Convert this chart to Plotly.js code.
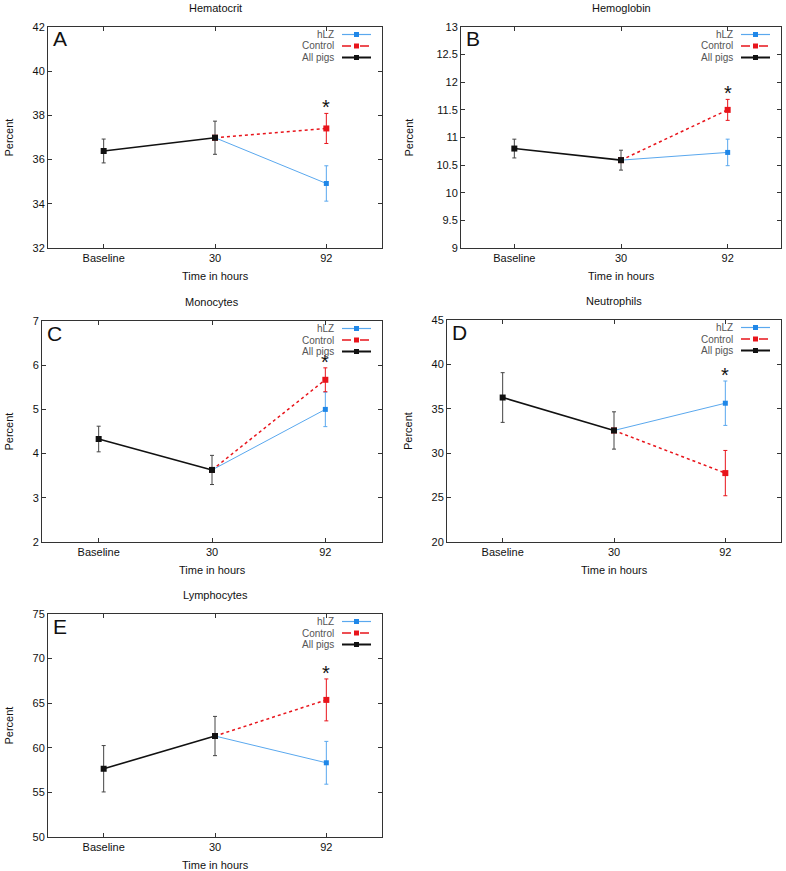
<!DOCTYPE html>
<html>
<head>
<meta charset="utf-8">
<script src="https://cdn.plot.ly/plotly-3.0.1.min.js"></script>
<style>
  html, body { margin: 0; padding: 0; background: #fff; }
  #chart { width: 786px; height: 871px; }
</style>
</head>
<body>
<div id="chart"></div>
<script>
// Blood values in pigs, hLZ vs control
const timepoints = ['Baseline', '30', '92'];
const panelTitles = ['Hematocrit', 'Hemoglobin', 'Monocytes', 'Neutrophils', 'Lymphocytes'];
const panelLetters = ['A', 'B', 'C', 'D', 'E'];
const seriesNames = ['hLZ', 'Control', 'All pigs'];

// all pigs: baseline and 30 h (mean, sem)
const allPigsMean = [[36.39, 36.99], [10.80, 10.59], [4.33, 3.63], [36.27, 32.56], [57.65, 61.32]];
const allPigsErr = [[0.54, 0.75], [0.17, 0.18], [0.29, 0.33], [2.8, 2.1], [2.6, 2.2]];
// groups at 92 h
const hlzMean92 = [34.92, 10.73, 5.00, 35.63, 58.32];
const hlzErr92 = [0.80, 0.24, 0.39, 2.5, 2.4];
const controlMean92 = [37.41, 11.50, 5.67, 27.76, 65.37];
const controlErr92 = [0.68, 0.19, 0.27, 2.55, 2.35];

const yRanges = [[32, 42], [9, 13], [2, 7], [20, 45], [50, 75]];
const yDticks = [2, 0.5, 1, 5, 5];

// panel boxes in px: [left, right, top, bottom]
const W = 786, H = 871;
const boxes = [
    [48, 382, 27, 248],
    [461, 781, 27, 248],
    [42, 382, 321, 542],
    [447, 781, 320, 542],
    [48, 382, 614, 837]
];

const BLUE = '#1f87e8';
const BLUE_LINE = '#5aa8ee';
const RED = '#e8141b';
const BLACK = '#111111';
const FONT = 'Liberation Sans, Arial, sans-serif';

const traces = [];
const layout = {
    width: W,
    height: H,
    margin: { l: 0, r: 0, t: 0, b: 0 },
    paper_bgcolor: '#fff',
    plot_bgcolor: '#fff',
    showlegend: false,
    font: { family: FONT, size: 11, color: '#222' },
    annotations: [],
    shapes: []
};

boxes.forEach((b, i) => {
    const n = i + 1;
    const xa = 'x' + (n === 1 ? '' : n);
    const ya = 'y' + (n === 1 ? '' : n);
    const xKey = 'xaxis' + (n === 1 ? '' : n);
    const yKey = 'yaxis' + (n === 1 ? '' : n);

    layout[xKey] = {
        type: 'category',
        categoryorder: 'array',
        categoryarray: timepoints,
        range: [-0.5, 2.5],
        domain: [b[0] / W, b[1] / W],
        anchor: ya,
        showline: true, mirror: 'ticks', linecolor: '#333', linewidth: 1,
        ticks: 'inside', ticklen: 4, tickcolor: '#333',
        showgrid: false, zeroline: false,
        tickfont: { size: 11, color: '#111' }
    };
    layout[yKey] = {
        range: yRanges[i],
        dtick: yDticks[i],
        domain: [1 - b[3] / H, 1 - b[2] / H],
        anchor: xa,
        showline: true, mirror: 'ticks', linecolor: '#333', linewidth: 1,
        ticks: 'inside', ticklen: 4, tickcolor: '#333',
        showgrid: false, zeroline: false,
        tickfont: { size: 11, color: '#111' }
    };

    // hLZ 30 -> 92
    traces.push({
        x: ['30', '92'],
        y: [allPigsMean[i][1], hlzMean92[i]],
        xaxis: xa, yaxis: ya,
        type: 'scatter', mode: 'lines+markers',
        line: { color: BLUE_LINE, width: 1 },
        marker: { symbol: 'square', size: 5, color: BLUE },
        error_y: { type: 'data', array: [NaN, hlzErr92[i]], color: BLUE_LINE, thickness: 1, width: 2 }
    });
    // Control 30 -> 92
    traces.push({
        x: ['30', '92'],
        y: [allPigsMean[i][1], controlMean92[i]],
        xaxis: xa, yaxis: ya,
        type: 'scatter', mode: 'lines+markers',
        line: { color: RED, width: 1.5, dash: '3px,3px' },
        marker: { symbol: 'square', size: 6, color: RED },
        error_y: { type: 'data', array: [NaN, controlErr92[i]], color: RED, thickness: 1, width: 2 }
    });
    // All pigs baseline -> 30
    traces.push({
        x: timepoints.slice(0, 2),
        y: allPigsMean[i],
        xaxis: xa, yaxis: ya,
        type: 'scatter', mode: 'lines+markers',
        line: { color: BLACK, width: 1.6 },
        marker: { symbol: 'square', size: 6, color: BLACK },
        error_y: { type: 'data', array: allPigsErr[i], color: '#444', thickness: 1, width: 2 }
    });

    const xd = xa + ' domain', yd = ya + ' domain';

    // panel title
    layout.annotations.push({
        text: panelTitles[i], xref: xd, yref: yd, x: 0.5, y: 1,
        yshift: 19, yanchor: 'middle', showarrow: false,
        font: { size: 11, color: '#111' }
    });
    // panel letter
    layout.annotations.push({
        text: panelLetters[i], xref: xd, yref: yd, x: 0, y: 1,
        xanchor: 'left', yanchor: 'middle', xshift: 3, yshift: -12, showarrow: false,
        font: { size: 21, color: '#111' }
    });
    // axis titles
    layout.annotations.push({
        text: 'Time in hours', xref: xd, yref: yd, x: 0.5, y: 0,
        yshift: -28, yanchor: 'middle', showarrow: false,
        font: { size: 11, color: '#111' }
    });
    layout.annotations.push({
        text: 'Percent', xref: 'paper', yref: yd, x: (b[0] < 200 ? 8 : 408) / W, y: 0.5,
        textangle: -90, xanchor: 'center', yanchor: 'middle', showarrow: false,
        font: { size: 11, color: '#111' }
    });
    // significance star above the higher group at 92 h
    const top92 = Math.max(hlzMean92[i] + hlzErr92[i], controlMean92[i] + controlErr92[i]);
    layout.annotations.push({
        text: '*', xref: xa, yref: ya, x: timepoints.indexOf('92'), y: top92,
        yanchor: 'middle', yshift: 6, borderpad: 0, showarrow: false,
        font: { size: 20, color: '#111' }
    });

    // legend drawn at top right, text left of the sample line
    const legendStyles = [
        { color: BLUE_LINE, mark: BLUE, dash: 'solid', width: 1.2 },
        { color: RED, mark: RED, dash: 'dash', width: 1.5 },
        { color: BLACK, mark: BLACK, dash: 'solid', width: 2 }
    ];
    seriesNames.forEach((name, k) => {
        const dy = -7.5 - k * 11.5;
        layout.annotations.push({
            text: name, xref: xd, yref: yd, x: 1, y: 1,
            xanchor: 'right', yanchor: 'middle', xshift: -46, yshift: dy,
            showarrow: false, font: { size: 10, color: '#555' }
        });
        const st = legendStyles[k];
        layout.shapes.push({
            type: 'line', xref: xd, yref: yd,
            xsizemode: 'pixel', ysizemode: 'pixel', xanchor: 1, yanchor: 1,
            x0: -40, x1: -11, y0: dy, y1: dy,
            line: { color: st.color, width: st.width, dash: st.dash }
        });
        layout.shapes.push({
            type: 'rect', xref: xd, yref: yd,
            xsizemode: 'pixel', ysizemode: 'pixel', xanchor: 1, yanchor: 1,
            x0: -28, x1: -23, y0: dy - 2.5, y1: dy + 2.5,
            fillcolor: st.mark, line: { width: 0 }
        });
    });
});

Plotly.newPlot('chart', traces, layout, { displayModeBar: false, staticPlot: true });
</script>
</body>
</html>
